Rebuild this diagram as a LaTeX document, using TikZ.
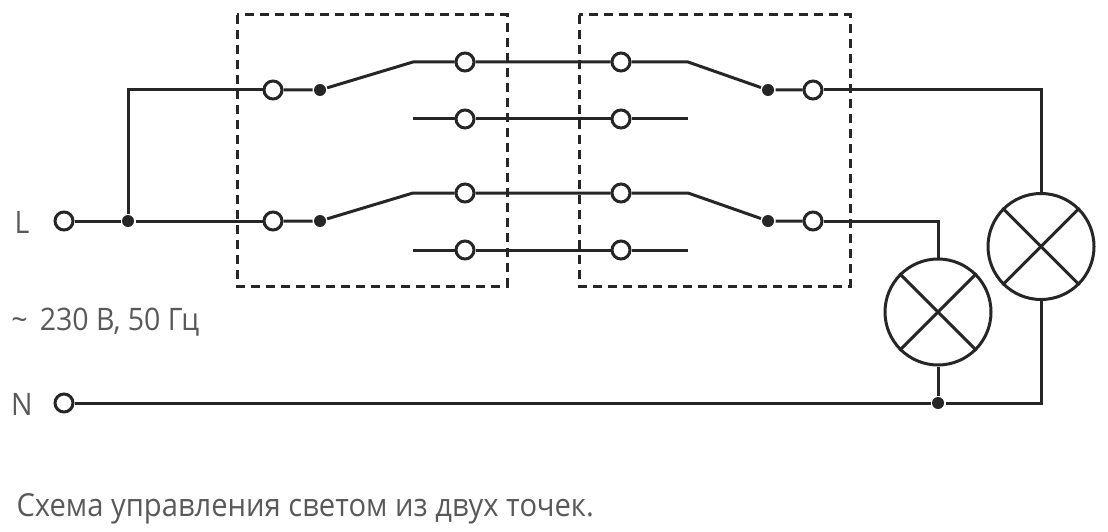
\documentclass[tikz,border=0pt]{standalone}
\usepackage{fontspec}
\setmainfont[FakeStretch=0.92]{Open Sans}
\begin{document}
\begin{tikzpicture}[x=1pt,y=-1pt,line width=3pt,color=black!85,
    every node/.style={inner sep=0pt},
    term/.style={circle,draw,fill=white,minimum size=18pt},
    junct/.style={circle,fill,minimum size=12pt},
    lamp/.style={circle,draw,minimum size=106pt},
    box/.style={draw,dashed,dash pattern=on 9pt off 6pt},
    caption/.style={text=black!65,font=\fontsize{31}{35}\selectfont,anchor=base west}]
    \useasboundingbox (0,0) rectangle (1108,532);
    % boxes
    \coordinate (BoxAa) at (237,15);
    \coordinate (BoxAb) at (507,286);
    \coordinate (BoxBa) at (579,15);
    \coordinate (BoxBb) at (850,286);
    \draw[box] (BoxAa) rectangle (BoxAb);
    \draw[box] (BoxBa) rectangle (BoxBb);
    % supply
    \node[term] (L) at (64,221) {};
    \node[term] (N) at (64,403) {};
    \node[junct] (Lj) at (128,221) {};
    \node[caption,anchor=base] (Ltxt) at (22,233) {L};
    \node[caption,anchor=base] (Ntxt) at (22,415) {N};
    \node[caption] (Volt) at (10,330) {\textasciitilde\hspace{12pt}230 В, 50 Гц};
    \node[caption,font=\fontsize{31.7}{35}\selectfont] (Capt) at (15,516) {Схема управления светом из двух точек.};
    % upper and lower switch pairs
    \foreach \n/\y in {a/90,b/221}{
      \node[term] (In\n) at (273,\y) {};
      \node[junct] (Piv\n) at (320,\y) {};
      \coordinate (Throw\n) at (413,\y-28);
      \coordinate (Stub\n) at (413,\y+29);
      \node[term] (Up\n) at (465,\y-28) {};
      \node[term] (Lo\n) at (465,\y+29) {};
      \node[term] (UpR\n) at (621,\y-28) {};
      \node[term] (LoR\n) at (621,\y+29) {};
      \coordinate (ThrowR\n) at (688,\y-28);
      \coordinate (StubR\n) at (688,\y+29);
      \node[junct] (PivR\n) at (768,\y) {};
      \node[term] (Out\n) at (813,\y) {};
      \draw (In\n) -- (Piv\n) -- (Throw\n) -- (Up\n) -- (UpR\n) -- (ThrowR\n) -- (PivR\n) -- (Out\n);
      \draw (Stub\n) -- (Lo\n) -- (LoR\n) -- (StubR\n);
    }
    % lamps
    \node[lamp] (LampA) at (1041,246.5) {};
    \node[lamp] (LampB) at (938,312) {};
    \foreach \l in {LampA,LampB}{
      \draw (\l.45) -- (\l.225);
      \draw (\l.135) -- (\l.315);
    }
    \node[junct] (Nj) at (938,403) {};
    % wiring
    \draw (L) -- (Lj) -- (Inb);
    \draw (Lj) |- (Ina);
    \draw (Outa) -| (LampA);
    \draw (Outb) -| (LampB);
    \draw (N) -- (Nj);
    \draw (LampB) -- (Nj);
    \draw (LampA) |- (Nj);
  \end{tikzpicture}
\end{document}
